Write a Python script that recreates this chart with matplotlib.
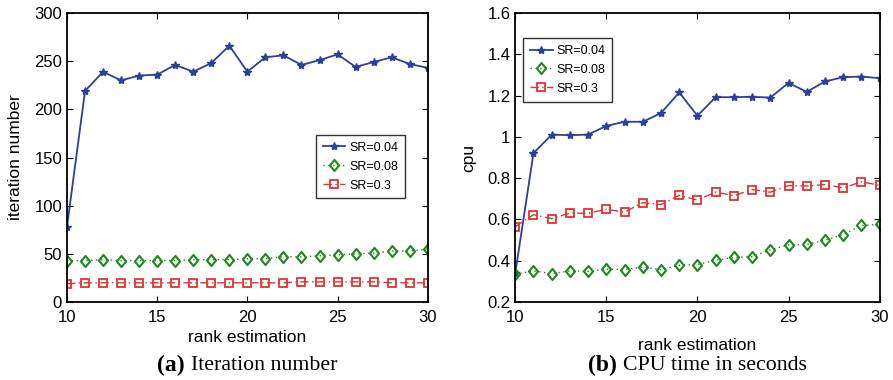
import matplotlib
matplotlib.use("Agg")
import matplotlib.pyplot as plt
from matplotlib.path import Path

rank = list(range(10, 31))

iter_sr004 = [78, 219, 239, 230, 235, 236, 246, 239, 248, 266, 239, 254, 256, 246, 251, 257, 244, 249, 254, 247, 243]
iter_sr008 = [43, 43, 44, 43, 43, 43, 43, 44, 44, 44, 45, 45, 47, 47, 48, 49, 50, 51, 53, 53, 55]
iter_sr03 = [19, 20, 20, 20, 20, 20, 20, 20, 20, 20, 20, 20, 20, 21, 21, 21, 21, 21, 20, 20, 20]

cpu_sr004 = [0.34, 0.921, 1.011, 1.008, 1.011, 1.053, 1.073, 1.073, 1.115, 1.215, 1.102, 1.192, 1.192, 1.194, 1.19, 1.261, 1.218, 1.268, 1.289, 1.292, 1.284]
cpu_sr008 = [0.335, 0.351, 0.338, 0.351, 0.349, 0.359, 0.357, 0.370, 0.357, 0.378, 0.382, 0.403, 0.416, 0.420, 0.453, 0.477, 0.479, 0.500, 0.527, 0.571, 0.576]
cpu_sr03 = [0.566, 0.623, 0.604, 0.631, 0.630, 0.649, 0.636, 0.681, 0.672, 0.717, 0.694, 0.733, 0.715, 0.745, 0.732, 0.764, 0.762, 0.769, 0.753, 0.782, 0.766]

labels = ["SR=0.04", "SR=0.08", "SR=0.3"]
captions = [("(a)", "Iteration number"), ("(b)", "CPU time in seconds")]

plt.rcParams['font.family'] = ['Liberation Sans', 'DejaVu Sans']

BLUE = "#2c3f9e"
GREEN = "#1b8a1b"
RED = "#e33232"

diamond = Path([(0, 1), (0.82, 0), (0, -1), (-0.82, 0), (0, 1)],
               [Path.MOVETO, Path.LINETO, Path.LINETO, Path.LINETO, Path.CLOSEPOLY])

fig = plt.figure(figsize=(8.93, 3.80), dpi=100)
ax1 = fig.add_axes([0.075, 0.205, 0.404, 0.761])
ax2 = fig.add_axes([0.577, 0.205, 0.408, 0.761])

def draw(ax, s1, s2, s3):
    ax.plot(rank, s1, color=BLUE, lw=1.3, marker='*', ms=6, mfc=BLUE, mec=BLUE, label=labels[0])
    ax.plot(rank, s2, color=GREEN, lw=1.0, ls=(0, (1, 2.5)), marker=diamond, ms=8,
            mfc='none', mec=GREEN, mew=1.5, label=labels[1])
    ax.plot(rank, s3, color=RED, lw=1.0, ls=(0, (6, 2.5, 1, 2.5)), marker='s', ms=5.5,
            mfc='none', mec=RED, mew=1.3, label=labels[2])
    ax.set_xlim(10, 30)
    ax.set_xticks([10, 15, 20, 25, 30])
    ax.tick_params(direction='in', top=True, right=True, labelsize=12, length=4, width=0.8)
    ax.tick_params(axis='x', pad=6)
    for sp in ax.spines.values():
        sp.set_linewidth(1.3)

def add_legend(ax, anchor):
    leg = ax.legend(loc='upper left', bbox_to_anchor=anchor, fontsize=9,
                    frameon=True, fancybox=False, edgecolor='black', handlelength=1.8,
                    borderpad=0.55, labelspacing=0.55, handletextpad=0.3, borderaxespad=0)
    leg.get_frame().set_linewidth(1.0)
    return leg

draw(ax1, iter_sr004, iter_sr008, iter_sr03)
ax1.set_xlabel("rank estimation", fontsize=12.5, labelpad=3)
ax1.set_ylim(0, 300)
ax1.set_yticks([0, 50, 100, 150, 200, 250, 300])
ax1.set_ylabel("iteration number", fontsize=12.5, labelpad=8)
add_legend(ax1, (0.69, 0.578))

draw(ax2, cpu_sr004, cpu_sr008, cpu_sr03)
ax2.set_xlabel("rank estimation", fontsize=12.5, labelpad=9)
ax2.set_ylim(0.2, 1.6)
ax2.set_yticks([0.2, 0.4, 0.6, 0.8, 1.0, 1.2, 1.4, 1.6])
ax2.set_yticklabels(["0.2", "0.4", "0.6", "0.8", "1", "1.2", "1.4", "1.6"])
ax2.set_ylabel("cpu", fontsize=12.5, labelpad=8)
add_legend(ax2, (0.022, 0.913))

renderer = fig.canvas.get_renderer()
W = fig.bbox.width
for ax, (tag, txt) in zip([ax1, ax2], captions):
    bb = ax.get_position()
    cx = bb.x0 + bb.width / 2
    t1 = fig.text(0, 0.037, tag + " ", ha='left', va='center', fontsize=17, fontweight='bold',
                  family=['Liberation Serif'])
    t2 = fig.text(0, 0.037, txt, ha='left', va='center', fontsize=15.75,
                  family=['Liberation Serif'])
    w1 = t1.get_window_extent(renderer).width / W
    w2 = t2.get_window_extent(renderer).width / W
    x0 = cx - (w1 + w2) / 2
    t1.set_x(x0)
    t2.set_x(x0 + w1)

fig.savefig("out.png", dpi=100)
